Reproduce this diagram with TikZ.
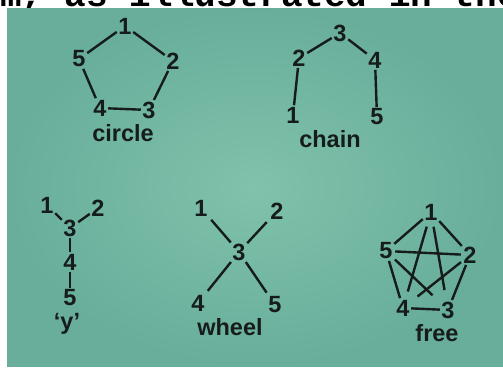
\documentclass[tikz,border=0pt]{standalone}
\usepackage{fontspec}
\setmainfont{Liberation Sans}
\newfontfamily\headfont{Liberation Mono}
\usepackage{xcolor}
\definecolor{slide}{RGB}{104,174,155}
\definecolor{slidelight}{RGB}{128,194,171}
\definecolor{ink}{RGB}{22,28,28}

\begin{document}
\begin{tikzpicture}[x=1pt, y=-1pt,
  num/.style={font=\fontsize{23.5}{25}\selectfont\bfseries, text=ink, inner sep=1.5pt},
  caption/.style={font=\fontsize{23.5}{25}\selectfont\bfseries, text=ink, inner sep=0pt},
  link/.style={draw=ink, line width=2.4pt},
]
  \useasboundingbox (0,0) rectangle (503,367);
  \fill[white] (0,0) rectangle (503,367);
  \shade[inner color=slidelight, outer color=slide] (7,8) rectangle (503,366.5);
  % line of the page above, cut off
  \begin{scope}
    \clip (0,0) rectangle (503,7.5);
    \node[anchor=base west, inner sep=0pt, text=black, font=\headfont\fontsize{36}{36}\selectfont\bfseries] (head) at (0,6.5) {m, as illustrated in the c};
  \end{scope}

  % circle
  \node[num] (c1) at (125,26) {1};
  \node[num] (c2) at (173,61) {2};
  \node[num] (c3) at (149,110) {3};
  \node[num] (c4) at (100,108) {4};
  \node[num] (c5) at (79,59) {5};
  \node[caption] (circle) at (123,133) {circle};
  \draw[link] (c1) -- (c2) -- (c3) -- (c4) -- (c5) -- (c1);

  % chain
  \node[num] (ch1) at (293,115) {1};
  \node[num] (ch2) at (299,58) {2};
  \node[num] (ch3) at (340,33) {3};
  \node[num] (ch4) at (375,60) {4};
  \node[num] (ch5) at (377,117) {5};
  \node[caption] (chain) at (330,139) {chain};
  \draw[link] (ch1) -- (ch2) -- (ch3) -- (ch4) -- (ch5);

  % y
  \node[num] (y1) at (47,205) {1};
  \node[num] (y2) at (98,208) {2};
  \node[num] (y3) at (70,228) {3};
  \node[num] (y4) at (70,262) {4};
  \node[num] (y5) at (70,298) {5};
  \node[caption] (ylabel) at (67,324) {‘y’};
  \draw[link] (y1) -- (y3);
  \draw[link] (y2) -- (y3);
  \draw[link] (y3) -- (y4) -- (y5);

  % wheel
  \node[num] (w1) at (201,208) {1};
  \node[num] (w2) at (277,211) {2};
  \node[num] (w3) at (239,252) {3};
  \node[num] (w4) at (198,303) {4};
  \node[num] (w5) at (275,305) {5};
  \node[caption] (wheel) at (230,327) {wheel};
  \foreach \n in {w1,w2,w4,w5}
    \draw[link, shorten <=3pt] (\n) -- (w3);

  % free
  \node[num] (f1) at (431,212) {1};
  \node[num] (f2) at (470,255) {2};
  \node[num] (f3) at (448,310) {3};
  \node[num] (f4) at (403,308) {4};
  \node[num] (f5) at (386,251) {5};
  \node[caption] (free) at (437,333) {free};
  \draw[link] (f1) -- (f2) -- (f3) -- (f4) -- (f5) -- (f1);
  % the star inside
  \draw[link, shorten <=5pt, shorten >=7pt] (f1) -- (f4);
  \draw[link, shorten <=5pt, shorten >=10pt] (f1) -- (f3);
  \draw[link, shorten <=1pt, shorten >=1pt] (f5) -- (f2);
  \draw[link, shorten <=1pt, shorten >=8pt] (f2) -- (f4);
  \draw[link, shorten <=1pt, shorten >=10pt] (f5) -- (f3);
\end{tikzpicture}
\end{document}
